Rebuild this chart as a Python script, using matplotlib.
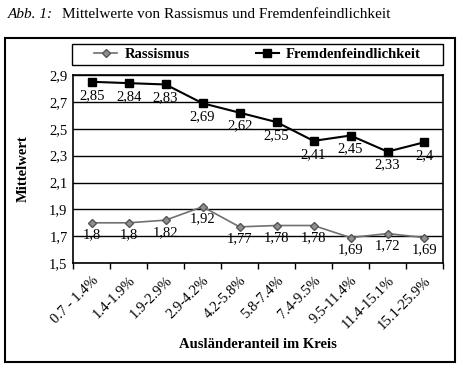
import matplotlib.pyplot as plt
from matplotlib.patches import Rectangle

plt.rcParams['font.family'] = ['Liberation Serif', 'DejaVu Serif']

# Daten
kategorien = ['0.7 - 1.4%', '1.4-1.9%', '1.9-2.9%', '2.9-4.2%', '4.2-5.8%',
              '5.8-7.4%', '7.4-9.5%', '9.5-11.4%', '11.4-15.1%', '15.1-25.9%']
rassismus = [1.8, 1.8, 1.82, 1.92, 1.77, 1.78, 1.78, 1.69, 1.72, 1.69]
fremden = [2.85, 2.84, 2.83, 2.69, 2.62, 2.55, 2.41, 2.45, 2.33, 2.4]
yticks = [1.5, 1.7, 1.9, 2.1, 2.3, 2.5, 2.7, 2.9]


def fmt(v):
    return ('%g' % v).replace('.', ',')


fig = plt.figure(figsize=(4.6, 3.68), dpi=100)
ax = fig.add_axes([0.159, 0.285, 0.804, 0.511])

x = range(len(kategorien))
l1, = ax.plot(x, rassismus, color='#707070', lw=1.2, marker='D', ms=4,
              mfc='#909090', mec='#555555', label='Rassismus')
l2, = ax.plot(x, fremden, color='black', lw=1.5, marker='s', ms=6,
              label='Fremdenfeindlichkeit')

for i in x:
    ax.annotate(fmt(rassismus[i]), (i, rassismus[i]), xytext=(0, -4),
                textcoords='offset points', ha='center', va='top', fontsize=10.5)
    ax.annotate(fmt(fremden[i]), (i, fremden[i]), xytext=(0, -5),
                textcoords='offset points', ha='center', va='top', fontsize=10.5)

ax.set_ylim(1.5, 2.9)
ax.set_yticks(yticks)
ax.set_yticklabels([fmt(v) for v in yticks], fontsize=10.5)
ax.yaxis.grid(True, color='black', lw=1)
ax.set_axisbelow(True)
ax.tick_params(axis='y', length=0, pad=4)

ax.set_xlim(-0.5, len(kategorien) - 0.5)
ax.set_xticks([i - 0.5 for i in range(len(kategorien) + 1)], minor=False)
ax.set_xticklabels([])
ax.set_xticks(list(x), minor=True)
ax.set_xticklabels(kategorien, minor=True, rotation=45, ha='right',
                   rotation_mode='anchor', fontsize=10.5)
ax.tick_params(axis='x', which='major', direction='out', length=4, width=1)
ax.tick_params(axis='x', which='minor', length=0, pad=8)

for s in ax.spines.values():
    s.set_linewidth(1.2)

ax.set_ylabel('Mittelwert', fontweight='bold', fontsize=10.5, labelpad=14)
ax.set_xlabel('Ausländeranteil im Kreis', fontweight='bold', fontsize=10.5, labelpad=4)

# Legendenrahmen
fig.patches.append(Rectangle((0.157, 0.823), 0.806, 0.057, transform=fig.transFigure,
                             fill=False, edgecolor='black', lw=1))
fig.legend(handles=[l1, l2], loc='center', ncol=2,
           bbox_to_anchor=(0.56, 0.8515), frameon=False,
           prop={'weight': 'bold', 'size': 10.5},
           handlelength=1.6, columnspacing=4.5, handletextpad=0.5)

fig.patches.append(Rectangle((0.011, 0.016), 0.978, 0.88, transform=fig.transFigure,
                             fill=False, edgecolor='black', lw=1.5))

fig.text(0.018, 0.96, 'Abb. 1:', style='italic', fontsize=11, va='center')
fig.text(0.135, 0.96, 'Mittelwerte von Rassismus und Fremdenfeindlichkeit',
         fontsize=11, va='center')

fig.savefig('out.png', dpi=100)
